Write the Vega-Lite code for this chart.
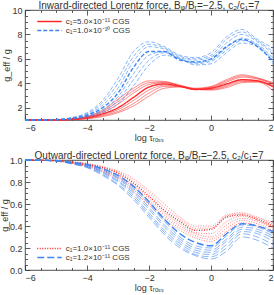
{
"$schema":"https://vega.github.io/schema/vega-lite/v6.json",
"padding":{"left":0,"top":0,"right":2,"bottom":0},
"bounds":"flush",
"spacing":40,
"resolve":{"scale":{"color":"independent","strokeDash":"independent","strokeWidth":"independent"},"legend":{"color":"independent"}},
"config":{
 "font":"Liberation Sans",
 "view":{"stroke":"#222","strokeWidth":0.8},
 "axis":{"domain":false,"grid":false,"labelFontSize":9,"labelColor":"#333","titleFontSize":9,"titleFontWeight":"normal","titleColor":"#333","tickColor":"#333","tickSize":-5,"tickWidth":0.8,"labelPadding":8},
 "axisY":{"titlePadding":0},
 "axisX":{"titlePadding":1},
 "title":{"fontSize":10,"fontWeight":"normal","color":"#333","offset":-5},
 "legend":{"labelFontSize":8,"labelColor":"#333","rowPadding":-2,"symbolType":"M-3.5,0L3.5,0","symbolSize":49,"symbolStrokeWidth":1.3,"labelOffset":11.75,"padding":0}
},
"datasets":{
"top":[
{"s":"a","id":"a1","w":0,"x":-6,"y":1},{"s":"a","id":"a1","w":0,"x":-5,"y":1.02},{"s":"a","id":"a1","w":0,"x":-4.5,"y":1.08},{"s":"a","id":"a1","w":0,"x":-4,"y":1.3},{"s":"a","id":"a1","w":0,"x":-3.5,"y":1.8},{"s":"a","id":"a1","w":0,"x":-3,"y":2.7},{"s":"a","id":"a1","w":0,"x":-2.5,"y":3.6},{"s":"a","id":"a1","w":0,"x":-2,"y":4.2},{"s":"a","id":"a1","w":0,"x":-1.5,"y":4.15},{"s":"a","id":"a1","w":0,"x":-1,"y":3.85},{"s":"a","id":"a1","w":0,"x":-0.5,"y":3.6},{"s":"a","id":"a1","w":0,"x":0,"y":3.75},{"s":"a","id":"a1","w":0,"x":0.5,"y":4.3},{"s":"a","id":"a1","w":0,"x":1,"y":4.7},{"s":"a","id":"a1","w":0,"x":1.5,"y":4.45},{"s":"a","id":"a1","w":0,"x":2,"y":4.05},
{"s":"a","id":"a2","w":0,"x":-6,"y":1},{"s":"a","id":"a2","w":0,"x":-5,"y":1.02},{"s":"a","id":"a2","w":0,"x":-4.5,"y":1.07},{"s":"a","id":"a2","w":0,"x":-4,"y":1.27},{"s":"a","id":"a2","w":0,"x":-3.5,"y":1.7},{"s":"a","id":"a2","w":0,"x":-3,"y":2.5},{"s":"a","id":"a2","w":0,"x":-2.5,"y":3.4},{"s":"a","id":"a2","w":0,"x":-2,"y":4.05},{"s":"a","id":"a2","w":0,"x":-1.5,"y":4.1},{"s":"a","id":"a2","w":0,"x":-1,"y":3.8},{"s":"a","id":"a2","w":0,"x":-0.5,"y":3.55},{"s":"a","id":"a2","w":0,"x":0,"y":3.7},{"s":"a","id":"a2","w":0,"x":0.5,"y":4.2},{"s":"a","id":"a2","w":0,"x":1,"y":4.6},{"s":"a","id":"a2","w":0,"x":1.5,"y":4.4},{"s":"a","id":"a2","w":0,"x":2,"y":4.0},
{"s":"a","id":"a3","w":0,"x":-6,"y":1},{"s":"a","id":"a3","w":0,"x":-5,"y":1.01},{"s":"a","id":"a3","w":0,"x":-4.5,"y":1.06},{"s":"a","id":"a3","w":0,"x":-4,"y":1.23},{"s":"a","id":"a3","w":0,"x":-3.5,"y":1.6},{"s":"a","id":"a3","w":0,"x":-3,"y":2.3},{"s":"a","id":"a3","w":0,"x":-2.5,"y":3.2},{"s":"a","id":"a3","w":0,"x":-2,"y":3.9},{"s":"a","id":"a3","w":0,"x":-1.5,"y":4.05},{"s":"a","id":"a3","w":0,"x":-1,"y":3.8},{"s":"a","id":"a3","w":0,"x":-0.5,"y":3.55},{"s":"a","id":"a3","w":0,"x":0,"y":3.65},{"s":"a","id":"a3","w":0,"x":0.5,"y":4.1},{"s":"a","id":"a3","w":0,"x":1,"y":4.5},{"s":"a","id":"a3","w":0,"x":1.5,"y":4.35},{"s":"a","id":"a3","w":0,"x":2,"y":3.95},
{"s":"a","id":"a4","w":0,"x":-6,"y":1},{"s":"a","id":"a4","w":0,"x":-5,"y":1.01},{"s":"a","id":"a4","w":0,"x":-4.5,"y":1.04},{"s":"a","id":"a4","w":0,"x":-4,"y":1.16},{"s":"a","id":"a4","w":0,"x":-3.5,"y":1.42},{"s":"a","id":"a4","w":0,"x":-3,"y":1.85},{"s":"a","id":"a4","w":0,"x":-2.5,"y":2.6},{"s":"a","id":"a4","w":0,"x":-2,"y":3.45},{"s":"a","id":"a4","w":0,"x":-1.5,"y":3.85},{"s":"a","id":"a4","w":0,"x":-1,"y":3.75},{"s":"a","id":"a4","w":0,"x":-0.5,"y":3.5},{"s":"a","id":"a4","w":0,"x":0,"y":3.55},{"s":"a","id":"a4","w":0,"x":0.5,"y":3.85},{"s":"a","id":"a4","w":0,"x":1,"y":4.25},{"s":"a","id":"a4","w":0,"x":1.5,"y":4.2},{"s":"a","id":"a4","w":0,"x":2,"y":3.8},
{"s":"a","id":"a5","w":0,"x":-6,"y":1},{"s":"a","id":"a5","w":0,"x":-5,"y":1.01},{"s":"a","id":"a5","w":0,"x":-4.5,"y":1.04},{"s":"a","id":"a5","w":0,"x":-4,"y":1.13},{"s":"a","id":"a5","w":0,"x":-3.5,"y":1.35},{"s":"a","id":"a5","w":0,"x":-3,"y":1.7},{"s":"a","id":"a5","w":0,"x":-2.5,"y":2.35},{"s":"a","id":"a5","w":0,"x":-2,"y":3.2},{"s":"a","id":"a5","w":0,"x":-1.5,"y":3.75},{"s":"a","id":"a5","w":0,"x":-1,"y":3.75},{"s":"a","id":"a5","w":0,"x":-0.5,"y":3.5},{"s":"a","id":"a5","w":0,"x":0,"y":3.5},{"s":"a","id":"a5","w":0,"x":0.5,"y":3.75},{"s":"a","id":"a5","w":0,"x":1,"y":4.15},{"s":"a","id":"a5","w":0,"x":1.5,"y":4.15},{"s":"a","id":"a5","w":0,"x":2,"y":3.7},
{"s":"a","id":"a6","w":0,"x":-6,"y":1},{"s":"a","id":"a6","w":0,"x":-5,"y":1.0},{"s":"a","id":"a6","w":0,"x":-4.5,"y":1.03},{"s":"a","id":"a6","w":0,"x":-4,"y":1.1},{"s":"a","id":"a6","w":0,"x":-3.5,"y":1.28},{"s":"a","id":"a6","w":0,"x":-3,"y":1.6},{"s":"a","id":"a6","w":0,"x":-2.5,"y":2.15},{"s":"a","id":"a6","w":0,"x":-2,"y":2.95},{"s":"a","id":"a6","w":0,"x":-1.5,"y":3.6},{"s":"a","id":"a6","w":0,"x":-1,"y":3.7},{"s":"a","id":"a6","w":0,"x":-0.5,"y":3.5},{"s":"a","id":"a6","w":0,"x":0,"y":3.45},{"s":"a","id":"a6","w":0,"x":0.5,"y":3.65},{"s":"a","id":"a6","w":0,"x":1,"y":4.05},{"s":"a","id":"a6","w":0,"x":1.5,"y":4.1},{"s":"a","id":"a6","w":0,"x":2,"y":3.4},
{"s":"a","id":"a0","w":1,"x":-6,"y":1},{"s":"a","id":"a0","w":1,"x":-5,"y":1.01},{"s":"a","id":"a0","w":1,"x":-4.5,"y":1.05},{"s":"a","id":"a0","w":1,"x":-4,"y":1.2},{"s":"a","id":"a0","w":1,"x":-3.5,"y":1.5},{"s":"a","id":"a0","w":1,"x":-3,"y":2.0},{"s":"a","id":"a0","w":1,"x":-2.5,"y":2.85},{"s":"a","id":"a0","w":1,"x":-2,"y":3.7},{"s":"a","id":"a0","w":1,"x":-1.5,"y":3.95},{"s":"a","id":"a0","w":1,"x":-1,"y":3.75},{"s":"a","id":"a0","w":1,"x":-0.5,"y":3.5},{"s":"a","id":"a0","w":1,"x":0,"y":3.6},{"s":"a","id":"a0","w":1,"x":0.5,"y":3.95},{"s":"a","id":"a0","w":1,"x":1,"y":4.3},{"s":"a","id":"a0","w":1,"x":1.5,"y":4.2},{"s":"a","id":"a0","w":1,"x":2,"y":3.75},
{"s":"b","id":"b1","w":0,"x":-6,"y":1},{"s":"b","id":"b1","w":0,"x":-5,"y":1.05},{"s":"b","id":"b1","w":0,"x":-4.5,"y":1.2},{"s":"b","id":"b1","w":0,"x":-4,"y":1.6},{"s":"b","id":"b1","w":0,"x":-3.5,"y":2.6},{"s":"b","id":"b1","w":0,"x":-3,"y":4.4},{"s":"b","id":"b1","w":0,"x":-2.5,"y":6.6},{"s":"b","id":"b1","w":0,"x":-2,"y":7.4},{"s":"b","id":"b1","w":0,"x":-1.5,"y":7.0},{"s":"b","id":"b1","w":0,"x":-1,"y":6.3},{"s":"b","id":"b1","w":0,"x":-0.5,"y":6.1},{"s":"b","id":"b1","w":0,"x":0,"y":6.5},{"s":"b","id":"b1","w":0,"x":0.5,"y":7.8},{"s":"b","id":"b1","w":0,"x":1,"y":8.4},{"s":"b","id":"b1","w":0,"x":1.5,"y":7.6},{"s":"b","id":"b1","w":0,"x":2,"y":6.9},
{"s":"b","id":"b2","w":0,"x":-6,"y":1},{"s":"b","id":"b2","w":0,"x":-5,"y":1.04},{"s":"b","id":"b2","w":0,"x":-4.5,"y":1.17},{"s":"b","id":"b2","w":0,"x":-4,"y":1.52},{"s":"b","id":"b2","w":0,"x":-3.5,"y":2.4},{"s":"b","id":"b2","w":0,"x":-3,"y":4.0},{"s":"b","id":"b2","w":0,"x":-2.5,"y":6.2},{"s":"b","id":"b2","w":0,"x":-2,"y":7.2},{"s":"b","id":"b2","w":0,"x":-1.5,"y":6.9},{"s":"b","id":"b2","w":0,"x":-1,"y":6.2},{"s":"b","id":"b2","w":0,"x":-0.5,"y":6.0},{"s":"b","id":"b2","w":0,"x":0,"y":6.3},{"s":"b","id":"b2","w":0,"x":0.5,"y":7.6},{"s":"b","id":"b2","w":0,"x":1,"y":8.2},{"s":"b","id":"b2","w":0,"x":1.5,"y":7.5},{"s":"b","id":"b2","w":0,"x":2,"y":6.6},
{"s":"b","id":"b3","w":0,"x":-6,"y":1},{"s":"b","id":"b3","w":0,"x":-5,"y":1.04},{"s":"b","id":"b3","w":0,"x":-4.5,"y":1.15},{"s":"b","id":"b3","w":0,"x":-4,"y":1.45},{"s":"b","id":"b3","w":0,"x":-3.5,"y":2.2},{"s":"b","id":"b3","w":0,"x":-3,"y":3.6},{"s":"b","id":"b3","w":0,"x":-2.5,"y":5.8},{"s":"b","id":"b3","w":0,"x":-2,"y":7.0},{"s":"b","id":"b3","w":0,"x":-1.5,"y":6.8},{"s":"b","id":"b3","w":0,"x":-1,"y":6.1},{"s":"b","id":"b3","w":0,"x":-0.5,"y":5.9},{"s":"b","id":"b3","w":0,"x":0,"y":6.15},{"s":"b","id":"b3","w":0,"x":0.5,"y":7.3},{"s":"b","id":"b3","w":0,"x":1,"y":8.0},{"s":"b","id":"b3","w":0,"x":1.5,"y":7.4},{"s":"b","id":"b3","w":0,"x":2,"y":6.4},
{"s":"b","id":"b4","w":0,"x":-6,"y":1},{"s":"b","id":"b4","w":0,"x":-5,"y":1.03},{"s":"b","id":"b4","w":0,"x":-4.5,"y":1.11},{"s":"b","id":"b4","w":0,"x":-4,"y":1.35},{"s":"b","id":"b4","w":0,"x":-3.5,"y":1.85},{"s":"b","id":"b4","w":0,"x":-3,"y":2.9},{"s":"b","id":"b4","w":0,"x":-2.5,"y":4.8},{"s":"b","id":"b4","w":0,"x":-2,"y":6.3},{"s":"b","id":"b4","w":0,"x":-1.5,"y":6.6},{"s":"b","id":"b4","w":0,"x":-1,"y":6.0},{"s":"b","id":"b4","w":0,"x":-0.5,"y":5.7},{"s":"b","id":"b4","w":0,"x":0,"y":5.9},{"s":"b","id":"b4","w":0,"x":0.5,"y":6.9},{"s":"b","id":"b4","w":0,"x":1,"y":7.7},{"s":"b","id":"b4","w":0,"x":1.5,"y":7.2},{"s":"b","id":"b4","w":0,"x":2,"y":6.1},
{"s":"b","id":"b5","w":0,"x":-6,"y":1},{"s":"b","id":"b5","w":0,"x":-5,"y":1.02},{"s":"b","id":"b5","w":0,"x":-4.5,"y":1.1},{"s":"b","id":"b5","w":0,"x":-4,"y":1.3},{"s":"b","id":"b5","w":0,"x":-3.5,"y":1.72},{"s":"b","id":"b5","w":0,"x":-3,"y":2.6},{"s":"b","id":"b5","w":0,"x":-2.5,"y":4.3},{"s":"b","id":"b5","w":0,"x":-2,"y":5.9},{"s":"b","id":"b5","w":0,"x":-1.5,"y":6.5},{"s":"b","id":"b5","w":0,"x":-1,"y":6.0},{"s":"b","id":"b5","w":0,"x":-0.5,"y":5.6},{"s":"b","id":"b5","w":0,"x":0,"y":5.8},{"s":"b","id":"b5","w":0,"x":0.5,"y":6.7},{"s":"b","id":"b5","w":0,"x":1,"y":7.5},{"s":"b","id":"b5","w":0,"x":1.5,"y":7.1},{"s":"b","id":"b5","w":0,"x":2,"y":5.9},
{"s":"b","id":"b6","w":0,"x":-6,"y":1},{"s":"b","id":"b6","w":0,"x":-5,"y":1.02},{"s":"b","id":"b6","w":0,"x":-4.5,"y":1.08},{"s":"b","id":"b6","w":0,"x":-4,"y":1.25},{"s":"b","id":"b6","w":0,"x":-3.5,"y":1.6},{"s":"b","id":"b6","w":0,"x":-3,"y":2.3},{"s":"b","id":"b6","w":0,"x":-2.5,"y":3.8},{"s":"b","id":"b6","w":0,"x":-2,"y":5.5},{"s":"b","id":"b6","w":0,"x":-1.5,"y":6.3},{"s":"b","id":"b6","w":0,"x":-1,"y":6.0},{"s":"b","id":"b6","w":0,"x":-0.5,"y":5.5},{"s":"b","id":"b6","w":0,"x":0,"y":5.6},{"s":"b","id":"b6","w":0,"x":0.5,"y":6.5},{"s":"b","id":"b6","w":0,"x":1,"y":7.3},{"s":"b","id":"b6","w":0,"x":1.5,"y":7.0},{"s":"b","id":"b6","w":0,"x":2,"y":5.6},
{"s":"b","id":"b0","w":1,"x":-6,"y":1},{"s":"b","id":"b0","w":1,"x":-5,"y":1.03},{"s":"b","id":"b0","w":1,"x":-4.5,"y":1.13},{"s":"b","id":"b0","w":1,"x":-4,"y":1.4},{"s":"b","id":"b0","w":1,"x":-3.5,"y":2.0},{"s":"b","id":"b0","w":1,"x":-3,"y":3.2},{"s":"b","id":"b0","w":1,"x":-2.5,"y":5.3},{"s":"b","id":"b0","w":1,"x":-2,"y":6.6},{"s":"b","id":"b0","w":1,"x":-1.5,"y":6.6},{"s":"b","id":"b0","w":1,"x":-1,"y":5.9},{"s":"b","id":"b0","w":1,"x":-0.5,"y":5.75},{"s":"b","id":"b0","w":1,"x":0,"y":6.0},{"s":"b","id":"b0","w":1,"x":0.5,"y":7.0},{"s":"b","id":"b0","w":1,"x":1,"y":7.6},{"s":"b","id":"b0","w":1,"x":1.5,"y":7.0},{"s":"b","id":"b0","w":1,"x":2,"y":5.8}
],
"bot":[
{"s":"c","id":"c1","w":0,"x":-6,"y":1},{"s":"c","id":"c1","w":0,"x":-5,"y":0.995},{"s":"c","id":"c1","w":0,"x":-4.5,"y":0.985},{"s":"c","id":"c1","w":0,"x":-4,"y":0.97},{"s":"c","id":"c1","w":0,"x":-3.5,"y":0.94},{"s":"c","id":"c1","w":0,"x":-3,"y":0.9},{"s":"c","id":"c1","w":0,"x":-2.5,"y":0.83},{"s":"c","id":"c1","w":0,"x":-2,"y":0.72},{"s":"c","id":"c1","w":0,"x":-1.5,"y":0.6},{"s":"c","id":"c1","w":0,"x":-1,"y":0.48},{"s":"c","id":"c1","w":0,"x":-0.5,"y":0.4},{"s":"c","id":"c1","w":0,"x":0,"y":0.4},{"s":"c","id":"c1","w":0,"x":0.5,"y":0.5},{"s":"c","id":"c1","w":0,"x":1,"y":0.52},{"s":"c","id":"c1","w":0,"x":1.5,"y":0.48},{"s":"c","id":"c1","w":0,"x":2,"y":0.43},
{"s":"c","id":"c2","w":0,"x":-6,"y":1},{"s":"c","id":"c2","w":0,"x":-5,"y":0.995},{"s":"c","id":"c2","w":0,"x":-4.5,"y":0.983},{"s":"c","id":"c2","w":0,"x":-4,"y":0.965},{"s":"c","id":"c2","w":0,"x":-3.5,"y":0.935},{"s":"c","id":"c2","w":0,"x":-3,"y":0.89},{"s":"c","id":"c2","w":0,"x":-2.5,"y":0.81},{"s":"c","id":"c2","w":0,"x":-2,"y":0.7},{"s":"c","id":"c2","w":0,"x":-1.5,"y":0.57},{"s":"c","id":"c2","w":0,"x":-1,"y":0.46},{"s":"c","id":"c2","w":0,"x":-0.5,"y":0.38},{"s":"c","id":"c2","w":0,"x":0,"y":0.38},{"s":"c","id":"c2","w":0,"x":0.5,"y":0.49},{"s":"c","id":"c2","w":0,"x":1,"y":0.51},{"s":"c","id":"c2","w":0,"x":1.5,"y":0.47},{"s":"c","id":"c2","w":0,"x":2,"y":0.42},
{"s":"c","id":"c3","w":0,"x":-6,"y":1},{"s":"c","id":"c3","w":0,"x":-5,"y":0.994},{"s":"c","id":"c3","w":0,"x":-4.5,"y":0.978},{"s":"c","id":"c3","w":0,"x":-4,"y":0.955},{"s":"c","id":"c3","w":0,"x":-3.5,"y":0.92},{"s":"c","id":"c3","w":0,"x":-3,"y":0.86},{"s":"c","id":"c3","w":0,"x":-2.5,"y":0.77},{"s":"c","id":"c3","w":0,"x":-2,"y":0.65},{"s":"c","id":"c3","w":0,"x":-1.5,"y":0.52},{"s":"c","id":"c3","w":0,"x":-1,"y":0.42},{"s":"c","id":"c3","w":0,"x":-0.5,"y":0.34},{"s":"c","id":"c3","w":0,"x":0,"y":0.33},{"s":"c","id":"c3","w":0,"x":0.5,"y":0.44},{"s":"c","id":"c3","w":0,"x":1,"y":0.49},{"s":"c","id":"c3","w":0,"x":1.5,"y":0.45},{"s":"c","id":"c3","w":0,"x":2,"y":0.39},
{"s":"c","id":"c4","w":0,"x":-6,"y":1},{"s":"c","id":"c4","w":0,"x":-5,"y":0.993},{"s":"c","id":"c4","w":0,"x":-4.5,"y":0.975},{"s":"c","id":"c4","w":0,"x":-4,"y":0.95},{"s":"c","id":"c4","w":0,"x":-3.5,"y":0.91},{"s":"c","id":"c4","w":0,"x":-3,"y":0.85},{"s":"c","id":"c4","w":0,"x":-2.5,"y":0.75},{"s":"c","id":"c4","w":0,"x":-2,"y":0.63},{"s":"c","id":"c4","w":0,"x":-1.5,"y":0.5},{"s":"c","id":"c4","w":0,"x":-1,"y":0.4},{"s":"c","id":"c4","w":0,"x":-0.5,"y":0.33},{"s":"c","id":"c4","w":0,"x":0,"y":0.3},{"s":"c","id":"c4","w":0,"x":0.5,"y":0.41},{"s":"c","id":"c4","w":0,"x":1,"y":0.47},{"s":"c","id":"c4","w":0,"x":1.5,"y":0.44},{"s":"c","id":"c4","w":0,"x":2,"y":0.38},
{"s":"c","id":"c5","w":0,"x":-6,"y":1},{"s":"c","id":"c5","w":0,"x":-5,"y":0.992},{"s":"c","id":"c5","w":0,"x":-4.5,"y":0.972},{"s":"c","id":"c5","w":0,"x":-4,"y":0.945},{"s":"c","id":"c5","w":0,"x":-3.5,"y":0.9},{"s":"c","id":"c5","w":0,"x":-3,"y":0.84},{"s":"c","id":"c5","w":0,"x":-2.5,"y":0.73},{"s":"c","id":"c5","w":0,"x":-2,"y":0.61},{"s":"c","id":"c5","w":0,"x":-1.5,"y":0.48},{"s":"c","id":"c5","w":0,"x":-1,"y":0.38},{"s":"c","id":"c5","w":0,"x":-0.5,"y":0.31},{"s":"c","id":"c5","w":0,"x":0,"y":0.28},{"s":"c","id":"c5","w":0,"x":0.5,"y":0.38},{"s":"c","id":"c5","w":0,"x":1,"y":0.45},{"s":"c","id":"c5","w":0,"x":1.5,"y":0.42},{"s":"c","id":"c5","w":0,"x":2,"y":0.36},
{"s":"c","id":"c6","w":0,"x":-6,"y":1},{"s":"c","id":"c6","w":0,"x":-5,"y":0.99},{"s":"c","id":"c6","w":0,"x":-4.5,"y":0.97},{"s":"c","id":"c6","w":0,"x":-4,"y":0.94},{"s":"c","id":"c6","w":0,"x":-3.5,"y":0.89},{"s":"c","id":"c6","w":0,"x":-3,"y":0.82},{"s":"c","id":"c6","w":0,"x":-2.5,"y":0.71},{"s":"c","id":"c6","w":0,"x":-2,"y":0.59},{"s":"c","id":"c6","w":0,"x":-1.5,"y":0.46},{"s":"c","id":"c6","w":0,"x":-1,"y":0.36},{"s":"c","id":"c6","w":0,"x":-0.5,"y":0.29},{"s":"c","id":"c6","w":0,"x":0,"y":0.26},{"s":"c","id":"c6","w":0,"x":0.5,"y":0.35},{"s":"c","id":"c6","w":0,"x":1,"y":0.43},{"s":"c","id":"c6","w":0,"x":1.5,"y":0.4},{"s":"c","id":"c6","w":0,"x":2,"y":0.34},
{"s":"c","id":"c0","w":1,"x":-6,"y":1},{"s":"c","id":"c0","w":1,"x":-5,"y":0.995},{"s":"c","id":"c0","w":1,"x":-4.5,"y":0.98},{"s":"c","id":"c0","w":1,"x":-4,"y":0.96},{"s":"c","id":"c0","w":1,"x":-3.5,"y":0.93},{"s":"c","id":"c0","w":1,"x":-3,"y":0.88},{"s":"c","id":"c0","w":1,"x":-2.5,"y":0.79},{"s":"c","id":"c0","w":1,"x":-2,"y":0.67},{"s":"c","id":"c0","w":1,"x":-1.5,"y":0.54},{"s":"c","id":"c0","w":1,"x":-1,"y":0.44},{"s":"c","id":"c0","w":1,"x":-0.5,"y":0.36},{"s":"c","id":"c0","w":1,"x":0,"y":0.37},{"s":"c","id":"c0","w":1,"x":0.5,"y":0.48},{"s":"c","id":"c0","w":1,"x":1,"y":0.5},{"s":"c","id":"c0","w":1,"x":1.5,"y":0.46},{"s":"c","id":"c0","w":1,"x":2,"y":0.4},
{"s":"d","id":"d1","w":0,"x":-6,"y":1},{"s":"d","id":"d1","w":0,"x":-5,"y":0.994},{"s":"d","id":"d1","w":0,"x":-4.5,"y":0.978},{"s":"d","id":"d1","w":0,"x":-4,"y":0.955},{"s":"d","id":"d1","w":0,"x":-3.5,"y":0.91},{"s":"d","id":"d1","w":0,"x":-3,"y":0.84},{"s":"d","id":"d1","w":0,"x":-2.5,"y":0.74},{"s":"d","id":"d1","w":0,"x":-2,"y":0.6},{"s":"d","id":"d1","w":0,"x":-1.5,"y":0.44},{"s":"d","id":"d1","w":0,"x":-1,"y":0.3},{"s":"d","id":"d1","w":0,"x":-0.5,"y":0.22},{"s":"d","id":"d1","w":0,"x":0,"y":0.2},{"s":"d","id":"d1","w":0,"x":0.5,"y":0.31},{"s":"d","id":"d1","w":0,"x":1,"y":0.41},{"s":"d","id":"d1","w":0,"x":1.5,"y":0.39},{"s":"d","id":"d1","w":0,"x":2,"y":0.33},
{"s":"d","id":"d2","w":0,"x":-6,"y":1},{"s":"d","id":"d2","w":0,"x":-5,"y":0.993},{"s":"d","id":"d2","w":0,"x":-4.5,"y":0.975},{"s":"d","id":"d2","w":0,"x":-4,"y":0.95},{"s":"d","id":"d2","w":0,"x":-3.5,"y":0.9},{"s":"d","id":"d2","w":0,"x":-3,"y":0.83},{"s":"d","id":"d2","w":0,"x":-2.5,"y":0.72},{"s":"d","id":"d2","w":0,"x":-2,"y":0.57},{"s":"d","id":"d2","w":0,"x":-1.5,"y":0.41},{"s":"d","id":"d2","w":0,"x":-1,"y":0.28},{"s":"d","id":"d2","w":0,"x":-0.5,"y":0.2},{"s":"d","id":"d2","w":0,"x":0,"y":0.18},{"s":"d","id":"d2","w":0,"x":0.5,"y":0.28},{"s":"d","id":"d2","w":0,"x":1,"y":0.39},{"s":"d","id":"d2","w":0,"x":1.5,"y":0.37},{"s":"d","id":"d2","w":0,"x":2,"y":0.31},
{"s":"d","id":"d3","w":0,"x":-6,"y":1},{"s":"d","id":"d3","w":0,"x":-5,"y":0.992},{"s":"d","id":"d3","w":0,"x":-4.5,"y":0.972},{"s":"d","id":"d3","w":0,"x":-4,"y":0.945},{"s":"d","id":"d3","w":0,"x":-3.5,"y":0.89},{"s":"d","id":"d3","w":0,"x":-3,"y":0.81},{"s":"d","id":"d3","w":0,"x":-2.5,"y":0.7},{"s":"d","id":"d3","w":0,"x":-2,"y":0.55},{"s":"d","id":"d3","w":0,"x":-1.5,"y":0.39},{"s":"d","id":"d3","w":0,"x":-1,"y":0.26},{"s":"d","id":"d3","w":0,"x":-0.5,"y":0.18},{"s":"d","id":"d3","w":0,"x":0,"y":0.16},{"s":"d","id":"d3","w":0,"x":0.5,"y":0.26},{"s":"d","id":"d3","w":0,"x":1,"y":0.37},{"s":"d","id":"d3","w":0,"x":1.5,"y":0.35},{"s":"d","id":"d3","w":0,"x":2,"y":0.29},
{"s":"d","id":"d4","w":0,"x":-6,"y":1},{"s":"d","id":"d4","w":0,"x":-5,"y":0.991},{"s":"d","id":"d4","w":0,"x":-4.5,"y":0.97},{"s":"d","id":"d4","w":0,"x":-4,"y":0.94},{"s":"d","id":"d4","w":0,"x":-3.5,"y":0.88},{"s":"d","id":"d4","w":0,"x":-3,"y":0.8},{"s":"d","id":"d4","w":0,"x":-2.5,"y":0.68},{"s":"d","id":"d4","w":0,"x":-2,"y":0.52},{"s":"d","id":"d4","w":0,"x":-1.5,"y":0.36},{"s":"d","id":"d4","w":0,"x":-1,"y":0.24},{"s":"d","id":"d4","w":0,"x":-0.5,"y":0.16},{"s":"d","id":"d4","w":0,"x":0,"y":0.14},{"s":"d","id":"d4","w":0,"x":0.5,"y":0.23},{"s":"d","id":"d4","w":0,"x":1,"y":0.35},{"s":"d","id":"d4","w":0,"x":1.5,"y":0.33},{"s":"d","id":"d4","w":0,"x":2,"y":0.26},
{"s":"d","id":"d5","w":0,"x":-6,"y":1},{"s":"d","id":"d5","w":0,"x":-5,"y":0.99},{"s":"d","id":"d5","w":0,"x":-4.5,"y":0.967},{"s":"d","id":"d5","w":0,"x":-4,"y":0.935},{"s":"d","id":"d5","w":0,"x":-3.5,"y":0.87},{"s":"d","id":"d5","w":0,"x":-3,"y":0.78},{"s":"d","id":"d5","w":0,"x":-2.5,"y":0.66},{"s":"d","id":"d5","w":0,"x":-2,"y":0.5},{"s":"d","id":"d5","w":0,"x":-1.5,"y":0.34},{"s":"d","id":"d5","w":0,"x":-1,"y":0.22},{"s":"d","id":"d5","w":0,"x":-0.5,"y":0.14},{"s":"d","id":"d5","w":0,"x":0,"y":0.12},{"s":"d","id":"d5","w":0,"x":0.5,"y":0.2},{"s":"d","id":"d5","w":0,"x":1,"y":0.33},{"s":"d","id":"d5","w":0,"x":1.5,"y":0.3},{"s":"d","id":"d5","w":0,"x":2,"y":0.23},
{"s":"d","id":"d6","w":0,"x":-6,"y":1},{"s":"d","id":"d6","w":0,"x":-5,"y":0.99},{"s":"d","id":"d6","w":0,"x":-4.5,"y":0.965},{"s":"d","id":"d6","w":0,"x":-4,"y":0.93},{"s":"d","id":"d6","w":0,"x":-3.5,"y":0.86},{"s":"d","id":"d6","w":0,"x":-3,"y":0.77},{"s":"d","id":"d6","w":0,"x":-2.5,"y":0.64},{"s":"d","id":"d6","w":0,"x":-2,"y":0.48},{"s":"d","id":"d6","w":0,"x":-1.5,"y":0.32},{"s":"d","id":"d6","w":0,"x":-1,"y":0.2},{"s":"d","id":"d6","w":0,"x":-0.5,"y":0.13},{"s":"d","id":"d6","w":0,"x":0,"y":0.1},{"s":"d","id":"d6","w":0,"x":0.5,"y":0.17},{"s":"d","id":"d6","w":0,"x":1,"y":0.3},{"s":"d","id":"d6","w":0,"x":1.5,"y":0.27},{"s":"d","id":"d6","w":0,"x":2,"y":0.2},
{"s":"d","id":"d0","w":1,"x":-6,"y":1},{"s":"d","id":"d0","w":1,"x":-5,"y":0.995},{"s":"d","id":"d0","w":1,"x":-4.5,"y":0.98},{"s":"d","id":"d0","w":1,"x":-4,"y":0.96},{"s":"d","id":"d0","w":1,"x":-3.5,"y":0.92},{"s":"d","id":"d0","w":1,"x":-3,"y":0.86},{"s":"d","id":"d0","w":1,"x":-2.5,"y":0.76},{"s":"d","id":"d0","w":1,"x":-2,"y":0.62},{"s":"d","id":"d0","w":1,"x":-1.5,"y":0.46},{"s":"d","id":"d0","w":1,"x":-1,"y":0.33},{"s":"d","id":"d0","w":1,"x":-0.5,"y":0.25},{"s":"d","id":"d0","w":1,"x":0,"y":0.22},{"s":"d","id":"d0","w":1,"x":0.5,"y":0.33},{"s":"d","id":"d0","w":1,"x":1,"y":0.42},{"s":"d","id":"d0","w":1,"x":1.5,"y":0.4},{"s":"d","id":"d0","w":1,"x":2,"y":0.35}
]
},
"vconcat":[
{
 "width":248,"height":110,
 "data":{"name":"top"},
 "title":{"text":"Inward-directed Lorentz force, Bᵩ/Bᵣ=−2.5, c₂/c₁=7"},
 "layer":[
  {"mark":{"type":"line","interpolate":"monotone"},
   "encoding":{
    "x":{"field":"x","type":"quantitative","scale":{"domain":[-6,2],"nice":false,"zero":false},"axis":{"values":[-6,-4,-2,0,2],"title":"log τᵣₒₛₛ"}},
    "y":{"field":"y","type":"quantitative","scale":{"domain":[1,10],"nice":false,"zero":false},"axis":{"values":[2,4,6,8,10],"title":"g_eff / g"}},
    "color":{"field":"s","type":"nominal","scale":{"domain":["a","b"],"range":["#ff2a2a","#3d86f2"]},"legend":{"title":null,"orient":"none","legendX":20,"legendY":7,"labelExpr":"datum.label=='a'?'c₁=5.0×10⁻¹¹ CGS':'c₁=1.0×10⁻¹⁰ CGS'","encode":{"symbols":{"update":{"strokeDash":{"signal":"datum.value=='a'?[1,0]:[4,2]"}}}}}},
    "strokeDash":{"field":"s","type":"nominal","scale":{"domain":["a","b"],"range":[[1,0],[4,2]]},"legend":null},
    "strokeWidth":{"field":"w","type":"quantitative","scale":{"domain":[0,1],"range":[0.6,1.4]},"legend":null},
    "detail":{"field":"id","type":"nominal"}
   }},
  {"mark":{"type":"point","opacity":0},
   "encoding":{
    "x":{"field":"x","type":"quantitative","axis":{"orient":"top","values":[-6,-4,-2,0,2],"labels":false,"title":null}},
    "y":{"field":"y","type":"quantitative","axis":{"orient":"right","values":[2,4,6,8,10],"labels":false,"title":null}}
   }},
  {"mark":{"type":"point","opacity":0},
   "encoding":{
    "x":{"field":"x","type":"quantitative","axis":{"orient":"bottom","values":[-5.5,-5,-4.5,-3.5,-3,-2.5,-1.5,-1,-0.5,0.5,1,1.5],"labels":false,"title":null,"tickSize":-2.5}},
    "y":{"field":"y","type":"quantitative","axis":{"orient":"left","values":[1.5,2.5,3,3.5,4.5,5,5.5,6.5,7,7.5,8.5,9,9.5],"labels":false,"title":null,"tickSize":-2.5}}
   }},
  {"mark":{"type":"point","opacity":0},
   "encoding":{
    "x":{"field":"x","type":"quantitative","axis":{"orient":"top","values":[-5.5,-5,-4.5,-3.5,-3,-2.5,-1.5,-1,-0.5,0.5,1,1.5],"labels":false,"title":null,"tickSize":-2.5}},
    "y":{"field":"y","type":"quantitative","axis":{"orient":"right","values":[1.5,2.5,3,3.5,4.5,5,5.5,6.5,7,7.5,8.5,9,9.5],"labels":false,"title":null,"tickSize":-2.5}}
   }}
 ],
 "resolve":{"axis":{"x":"independent","y":"independent"}}
},
{
 "width":248,"height":110,
 "data":{"name":"bot"},
 "title":{"text":"Outward-directed Lorentz force, Bᵩ/Bᵣ=−2.5, c₂/c₁=7"},
 "layer":[
  {"mark":{"type":"line","interpolate":"monotone"},
   "encoding":{
    "x":{"field":"x","type":"quantitative","scale":{"domain":[-6,2],"nice":false,"zero":false},"axis":{"values":[-6,-4,-2,0,2],"title":"log τᵣₒₛₛ"}},
    "y":{"field":"y","type":"quantitative","scale":{"domain":[0,1],"nice":false,"zero":false},"axis":{"values":[0,0.2,0.4,0.6,0.8,1.0],"format":".1f","title":"g_eff / g"}},
    "color":{"field":"s","type":"nominal","scale":{"domain":["c","d"],"range":["#ff2a2a","#3d86f2"]},"legend":{"title":null,"orient":"none","legendX":20,"legendY":84,"rowPadding":0,"labelExpr":"datum.label=='c'?'c₁=1.0×10⁻¹¹ CGS':'c₁=1.2×10⁻¹¹ CGS'","encode":{"symbols":{"update":{"strokeDash":{"signal":"datum.value=='c'?[1,1.5]:[7,3]"}}}}}},
    "strokeDash":{"field":"s","type":"nominal","scale":{"domain":["c","d"],"range":[[1,1.5],[7,3]]},"legend":null},
    "strokeWidth":{"field":"w","type":"quantitative","scale":{"domain":[0,1],"range":[0.6,1.4]},"legend":null},
    "detail":{"field":"id","type":"nominal"}
   }},
  {"mark":{"type":"point","opacity":0},
   "encoding":{
    "x":{"field":"x","type":"quantitative","axis":{"orient":"top","values":[-6,-4,-2,0,2],"labels":false,"title":null}},
    "y":{"field":"y","type":"quantitative","axis":{"orient":"right","values":[0,0.2,0.4,0.6,0.8,1.0],"labels":false,"title":null}}
   }},
  {"mark":{"type":"point","opacity":0},
   "encoding":{
    "x":{"field":"x","type":"quantitative","axis":{"orient":"bottom","values":[-5.5,-5,-4.5,-3.5,-3,-2.5,-1.5,-1,-0.5,0.5,1,1.5],"labels":false,"title":null,"tickSize":-2.5}},
    "y":{"field":"y","type":"quantitative","axis":{"orient":"left","values":[0.05,0.1,0.15,0.25,0.3,0.35,0.45,0.5,0.55,0.65,0.7,0.75,0.85,0.9,0.95],"labels":false,"title":null,"tickSize":-2.5}}
   }},
  {"mark":{"type":"point","opacity":0},
   "encoding":{
    "x":{"field":"x","type":"quantitative","axis":{"orient":"top","values":[-5.5,-5,-4.5,-3.5,-3,-2.5,-1.5,-1,-0.5,0.5,1,1.5],"labels":false,"title":null,"tickSize":-2.5}},
    "y":{"field":"y","type":"quantitative","axis":{"orient":"right","values":[0.05,0.1,0.15,0.25,0.3,0.35,0.45,0.5,0.55,0.65,0.7,0.75,0.85,0.9,0.95],"labels":false,"title":null,"tickSize":-2.5}}
   }}
 ],
 "resolve":{"axis":{"x":"independent","y":"independent"}}
}
]
}
